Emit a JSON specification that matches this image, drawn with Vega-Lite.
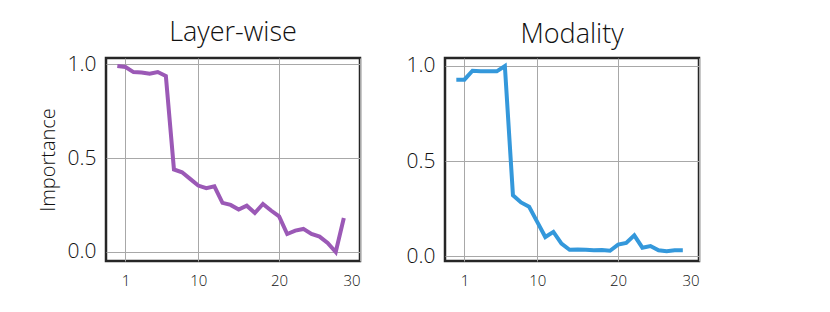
{
  "$schema": "https://vega.github.io/schema/vega-lite/v6.json",
  "padding": {"left": 36, "top": 18, "right": 5, "bottom": 5},
  "background": "white",
  "datasets": {
    "layer": [
      {"layer": 0, "importance": 0.991},
      {"layer": 1, "importance": 0.986},
      {"layer": 2, "importance": 0.959},
      {"layer": 3, "importance": 0.957},
      {"layer": 4, "importance": 0.950},
      {"layer": 5, "importance": 0.959},
      {"layer": 6, "importance": 0.938},
      {"layer": 7, "importance": 0.440},
      {"layer": 8, "importance": 0.425},
      {"layer": 9, "importance": 0.390},
      {"layer": 10, "importance": 0.354},
      {"layer": 11, "importance": 0.340},
      {"layer": 12, "importance": 0.350},
      {"layer": 13, "importance": 0.262},
      {"layer": 14, "importance": 0.251},
      {"layer": 15, "importance": 0.226},
      {"layer": 16, "importance": 0.247},
      {"layer": 17, "importance": 0.208},
      {"layer": 18, "importance": 0.256},
      {"layer": 19, "importance": 0.221},
      {"layer": 20, "importance": 0.190},
      {"layer": 21, "importance": 0.096},
      {"layer": 22, "importance": 0.114},
      {"layer": 23, "importance": 0.123},
      {"layer": 24, "importance": 0.096},
      {"layer": 25, "importance": 0.082},
      {"layer": 26, "importance": 0.048},
      {"layer": 27, "importance": 0.0},
      {"layer": 28, "importance": 0.181}
    ],
    "modality": [
      {"layer": 0, "importance": 0.928},
      {"layer": 1, "importance": 0.928},
      {"layer": 2, "importance": 0.975},
      {"layer": 3, "importance": 0.972},
      {"layer": 4, "importance": 0.972},
      {"layer": 5, "importance": 0.972},
      {"layer": 6, "importance": 1.0},
      {"layer": 7, "importance": 0.320},
      {"layer": 8, "importance": 0.282},
      {"layer": 9, "importance": 0.259},
      {"layer": 10, "importance": 0.180},
      {"layer": 11, "importance": 0.100},
      {"layer": 12, "importance": 0.127},
      {"layer": 13, "importance": 0.065},
      {"layer": 14, "importance": 0.033},
      {"layer": 15, "importance": 0.035},
      {"layer": 16, "importance": 0.033},
      {"layer": 17, "importance": 0.030},
      {"layer": 18, "importance": 0.032},
      {"layer": 19, "importance": 0.028},
      {"layer": 20, "importance": 0.060},
      {"layer": 21, "importance": 0.069},
      {"layer": 22, "importance": 0.109},
      {"layer": 23, "importance": 0.044},
      {"layer": 24, "importance": 0.053},
      {"layer": 25, "importance": 0.030},
      {"layer": 26, "importance": 0.025},
      {"layer": 27, "importance": 0.030},
      {"layer": 28, "importance": 0.030}
    ]
  },
  "config": {
    "font": "Open Sans",
    "view": {"stroke": "#262626", "strokeWidth": 2.5},
    "axis": {
      "grid": true,
      "gridColor": "#a8a8a8",
      "gridWidth": 1,
      "domain": false,
      "ticks": false,
      "labelColor": "#111111",
      "labelFont": "Open Sans",
      "labelFontWeight": 300,
      "titleFont": "Open Sans",
      "titleFontWeight": 300,
      "titleColor": "#111111"
    },
    "concat": {"spacing": 42}
  },
  "hconcat": [
    {
      "title": {"text": "Layer-wise", "font": "Open Sans", "fontSize": 27, "fontWeight": 300, "color": "#111111", "offset": 6},
      "width": 254,
      "height": 203,
      "data": {"name": "layer"},
      "mark": {"type": "line", "color": "#9b59b6", "strokeWidth": 4, "clip": true},
      "encoding": {
        "x": {
          "field": "layer", "type": "quantitative",
          "scale": {"domain": [-1.4, 30], "nice": false, "zero": false},
          "axis": {"values": [1, 10, 20, 30], "title": null, "labelFontSize": 15, "labelPadding": 12}
        },
        "y": {
          "field": "importance", "type": "quantitative",
          "scale": {"domain": [-0.048, 1.034], "nice": false, "zero": false},
          "axis": {"values": [0, 0.5, 1], "format": ".1f", "title": "Importance", "titleFontSize": 20, "titlePadding": 9, "labelFontSize": 21, "labelPadding": 10}
        }
      }
    },
    {
      "title": {"text": "Modality", "font": "Open Sans", "fontSize": 27, "fontWeight": 300, "color": "#111111", "offset": 6},
      "width": 254,
      "height": 203,
      "data": {"name": "modality"},
      "mark": {"type": "line", "color": "#3498db", "strokeWidth": 4, "clip": true},
      "encoding": {
        "x": {
          "field": "layer", "type": "quantitative",
          "scale": {"domain": [-1.4, 30], "nice": false, "zero": false},
          "axis": {"values": [1, 10, 20, 30], "title": null, "labelFontSize": 15, "labelPadding": 12}
        },
        "y": {
          "field": "importance", "type": "quantitative",
          "scale": {"domain": [-0.026, 1.042], "nice": false, "zero": false},
          "axis": {"values": [0, 0.5, 1], "format": ".1f", "title": null, "labelFontSize": 21, "labelPadding": 10}
        }
      }
    }
  ]
}
